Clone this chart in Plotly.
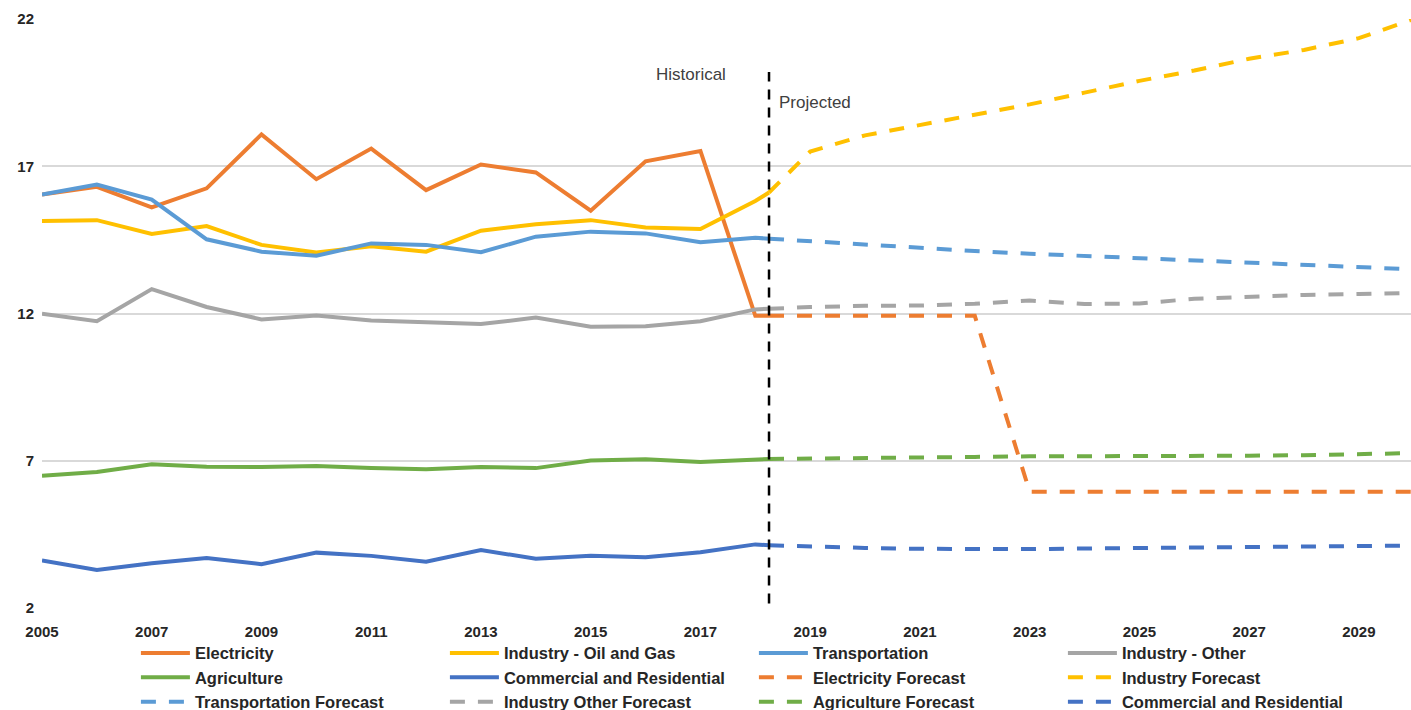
import plotly.graph_objects as go

# ---------------- data ----------------
hist_years = list(range(2005, 2019))
split_year = 2018.25          # boundary between historical and projected
fc_years = list(range(2019, 2031))

electricity = [16.04, 16.3, 15.6, 16.25, 18.08, 16.56, 17.6, 16.19, 17.06, 16.79, 15.49, 17.17, 17.52, 11.92, 11.92]
oil_gas     = [15.14, 15.17, 14.7, 14.97, 14.33, 14.07, 14.28, 14.1, 14.81, 15.03, 15.17, 14.92, 14.87, 15.82, 16.11]
transport   = [16.04, 16.38, 15.87, 14.52, 14.1, 13.96, 14.38, 14.33, 14.08, 14.61, 14.78, 14.72, 14.42, 14.57, 14.54]
ind_other   = [11.99, 11.74, 12.83, 12.22, 11.8, 11.93, 11.76, 11.69, 11.64, 11.86, 11.55, 11.57, 11.74, 12.14, 12.16]
agriculture = [6.49, 6.62, 6.88, 6.8, 6.79, 6.82, 6.75, 6.71, 6.79, 6.75, 7.01, 7.05, 6.96, 7.04, 7.06]
com_res     = [3.61, 3.29, 3.52, 3.7, 3.49, 3.88, 3.77, 3.57, 3.97, 3.67, 3.77, 3.72, 3.89, 4.16, 4.13]

elec_fc   = [11.92, 11.92, 11.92, 11.92, 11.92, 5.95, 5.95, 5.95, 5.95, 5.95, 5.95, 5.95, 5.95]
ind_fc    = [16.11, 17.5, 18.05, 18.4, 18.75, 19.1, 19.5, 19.9, 20.25, 20.65, 20.95, 21.35, 22.0]
trans_fc  = [14.54, 14.45, 14.35, 14.22, 14.12, 14.03, 13.95, 13.87, 13.8, 13.72, 13.63, 13.57, 13.5]
other_fc  = [12.16, 12.22, 12.26, 12.27, 12.33, 12.44, 12.32, 12.34, 12.5, 12.58, 12.63, 12.66, 12.7]
agri_fc   = [7.06, 7.08, 7.1, 7.11, 7.13, 7.15, 7.15, 7.14, 7.15, 7.17, 7.19, 7.22, 7.26]
comres_fc = [4.13, 4.08, 4.04, 4.01, 4.0, 4.0, 4.02, 4.04, 4.05, 4.07, 4.09, 4.11, 4.12]

hist_names = ["Electricity", "Industry - Oil and Gas", "Transportation", "Industry - Other",
              "Agriculture", "Commercial and Residential"]
fc_names = ["Electricity Forecast", "Industry Forecast", "Transportation Forecast",
            "Industry Other Forecast", "Agriculture Forecast", "Commercial and Residential"]

y_ticks = [2, 7, 12, 17, 22]
x_ticks = list(range(2005, 2030, 2))

colors = ["#ED7D31", "#FFC000", "#5B9BD5", "#A5A5A5", "#70AD47", "#4472C4"]

hist_series = [electricity, oil_gas, transport, ind_other, agriculture, com_res]
fc_series = [elec_fc, ind_fc, trans_fc, other_fc, agri_fc, comres_fc]

x_hist = hist_years + [split_year]
x_fc = [split_year] + fc_years

FONT = "Liberation Sans, Arial, sans-serif"

fig = go.Figure()
for name, ys, c in zip(hist_names, hist_series, colors):
    fig.add_trace(go.Scatter(x=x_hist, y=ys, mode="lines", name=name,
                             line=dict(color=c, width=4)))
for name, ys, c in zip(fc_names, fc_series, colors):
    fig.add_trace(go.Scatter(x=x_fc, y=ys, mode="lines", name=name,
                             line=dict(color=c, width=4, dash="15px,13px")))

fig.add_shape(type="line", x0=split_year, x1=split_year, y0=2.15, y1=20.2,
              xref="x", yref="y", line=dict(color="black", width=2.5, dash="10px,8px"))

fig.add_annotation(x=split_year, y=20.13, xref="x", yref="y", text="Historical",
                   showarrow=False, xanchor="right", xshift=-41,
                   font=dict(family=FONT, size=17, color="#404040"))
fig.add_annotation(x=split_year, y=19.18, xref="x", yref="y", text="Projected",
                   showarrow=False, xanchor="left", xshift=8,
                   font=dict(family=FONT, size=17, color="#404040"))

fig.update_layout(
    width=1411, height=710,
    margin=dict(l=42, r=0, t=19, b=102, autoexpand=False),
    plot_bgcolor="white", paper_bgcolor="white",
    showlegend=True,
    legend=dict(orientation="h", x=0.0686, xanchor="left", y=-0.047, yanchor="top",
                entrywidth=245, entrywidthmode="pixels", itemwidth=49,
                font=dict(family=FONT, size=16.5, color="#262626", weight="bold"),
                tracegroupgap=0, traceorder="normal", bgcolor="rgba(0,0,0,0)"),
    xaxis=dict(range=[2005, 2029.95], tickmode="array", tickvals=x_ticks,
               ticktext=[str(v) for v in x_ticks], showgrid=False, zeroline=False,
               showline=False, ticks="", ticklabelstandoff=13, automargin=False,
               tickfont=dict(family=FONT, size=15, color="#262626", weight="bold")),
    yaxis=dict(range=[2, 22], tickmode="array", tickvals=y_ticks,
               ticktext=[str(v) for v in y_ticks], showgrid=True, gridcolor="#D9D9D9",
               gridwidth=1.5, zeroline=False, showline=False, ticks="", ticklabelstandoff=7,
               automargin=False,
               tickfont=dict(family=FONT, size=15, color="#262626", weight="bold")),
)

fig.write_html("out.html", config={"displayModeBar": False},
               post_script="document.body.style.margin='0';document.body.style.overflow='hidden';")
